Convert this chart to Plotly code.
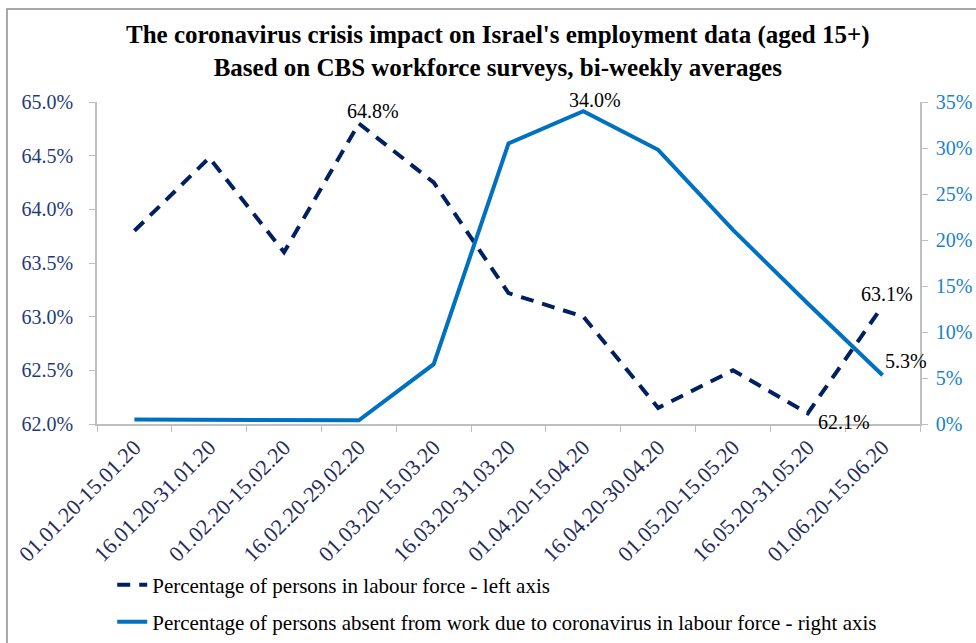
import plotly.graph_objects as go

# Bi-weekly periods (CBS workforce surveys)
periods = [
    "01.01.20-15.01.20", "16.01.20-31.01.20", "01.02.20-15.02.20",
    "16.02.20-29.02.20", "01.03.20-15.03.20", "16.03.20-31.03.20",
    "01.04.20-15.04.20", "16.04.20-30.04.20", "01.05.20-15.05.20",
    "16.05.20-31.05.20", "01.06.20-15.06.20",
]
# Percentage of persons in the labour force (left axis)
labour_force = [63.8, 64.48, 63.6, 64.8, 64.25, 63.22, 63.0, 62.15, 62.5, 62.1, 63.1]
# Percentage absent from work due to coronavirus (right axis)
absent = [0.5, 0.5, 0.4, 0.4, 6.5, 30.5, 34.0, 29.8, 21.1, 13.1, 5.3]

left_ticks = [62.0, 62.5, 63.0, 63.5, 64.0, 64.5, 65.0]
right_ticks = [0, 5, 10, 15, 20, 25, 30, 35]

NAVY = "#002060"
BLUE = "#0070C0"
FONT = "Liberation Serif"

fig = go.Figure()
fig.add_trace(go.Scatter(
    x=periods, y=labour_force, mode="lines", yaxis="y",
    name="Percentage of persons in labour force - left axis",
    line=dict(color=NAVY, width=4, dash="13px,9px"),
    legend="legend", showlegend=True,
))
fig.add_trace(go.Scatter(
    x=periods, y=absent, mode="lines", yaxis="y2",
    name="Percentage of persons absent from work due to coronavirus in labour force - right axis",
    line=dict(color=BLUE, width=4),
    legend="legend2", showlegend=True,
))

# Value labels: (series, index, axis, xshift, yshift)
label_specs = [
    (labour_force, 3, "y", 14, 12),
    (labour_force, 9, "y", 36, -9),
    (labour_force, 10, "y", 4, 12),
    (absent, 6, "y2", 12, 11),
    (absent, 10, "y2", 23, 14),
]
for series, i, ax, dx, dy in label_specs:
    fig.add_annotation(
        x=periods[i], y=series[i], xref="x", yref=ax,
        text=f"{series[i]:.1f}%", showarrow=False,
        xshift=dx, yshift=dy,
        font=dict(family=FONT, size=20, color="#000000"),
    )

# Outer frame of the chart
fig.add_shape(type="rect", xref="paper", yref="paper",
              x0=-0.1094, x1=1.3, y0=-1.5, y1=1.289,
              line=dict(color="#8c8c8c", width=1.5), layer="below")

fig.update_layout(
    width=976, height=643,
    margin=dict(l=97, r=56, t=102, b=219, autoexpand=False),
    paper_bgcolor="white", plot_bgcolor="white",
    showlegend=True,
    title=dict(
        text="<b>The coronavirus crisis impact on Israel's employment data (aged 15+)<br>"
             "Based on CBS workforce surveys, bi-weekly averages</b>",
        x=0.51, xanchor="center", y=0.933, yanchor="top",
        font=dict(family=FONT, size=25, color="#000000"),
    ),
    xaxis=dict(
        type="category", range=[-0.5, 10.5], automargin=False,
        showline=True, linecolor="#bfbfbf", linewidth=1.5,
        ticks="outside", ticklen=6, tickcolor="#bfbfbf", tickson="boundaries",
        tickangle=-45, showgrid=False, zeroline=False,
        tickfont=dict(family=FONT, size=22, color="#1f2d5c"),
    ),
    yaxis=dict(
        range=[62.0, 65.0], tickvals=left_ticks, automargin=False,
        ticktext=[f"{v:.1f}%" for v in left_ticks],
        showline=True, linecolor="#bfbfbf", linewidth=1.5,
        ticks="outside", ticklen=6, tickcolor="#bfbfbf",
        ticklabelstandoff=12,
        showgrid=False, zeroline=False,
        tickfont=dict(family=FONT, size=20, color="#1f3a7a"),
    ),
    yaxis2=dict(
        range=[0, 35], tickvals=right_ticks, automargin=False,
        ticktext=[f"{v}%" for v in right_ticks],
        overlaying="y", side="right", anchor="x",
        showline=True, linecolor="#bfbfbf", linewidth=1.5,
        ticks="outside", ticklen=6, tickcolor="#bfbfbf",
        ticklabelstandoff=4,
        showgrid=False, zeroline=False,
        tickfont=dict(family=FONT, size=20, color="#1a7fcc"),
    ),
    legend=dict(
        x=0.0185, y=-0.5, xanchor="left", yanchor="middle",
        bgcolor="rgba(0,0,0,0)",
        font=dict(family=FONT, size=21, color="#000000"),
    ),
    legend2=dict(
        x=0.0185, y=-0.615, xanchor="left", yanchor="middle",
        bgcolor="rgba(0,0,0,0)",
        font=dict(family=FONT, size=21, color="#000000"),
    ),
)

fig.write_html("out.html")
